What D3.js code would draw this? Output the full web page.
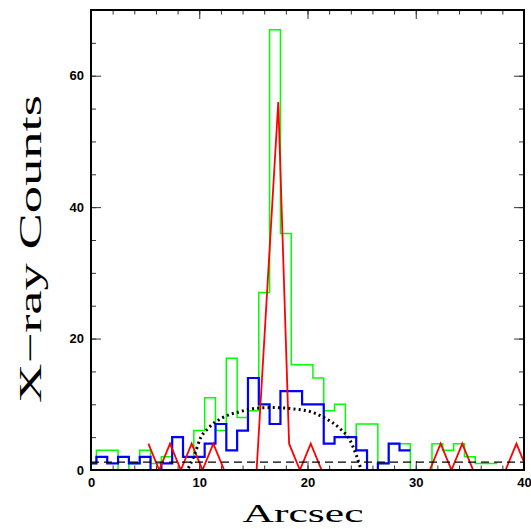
<!DOCTYPE html>
<html>
<head>
<meta charset="utf-8">
<script src="https://cdn.jsdelivr.net/npm/d3@7"></script>
<style>
  body { margin: 0; background: #fff; }
  svg { display: block; }
</style>
</head>
<body>
<div class="holder"></div>
<script>
"use strict";

// green histogram, 1" bins centred on 0..37
const greenCounts = [1, 3, 3, 0, 1, 3, 1, 2, 5, 2, 6, 11, 6, 17, 8, 9, 27, 67, 36, 16,
  16, 14, 9, 10, 5, 7, 7, 1, 4, 4, 0, 0, 4, 3, 4, 2, 1, 1];
// blue histogram, bins centred on 0..29
const blueCounts = [1, 2, 1, 2, 1, 2, 0, 1, 5, 2, 2, 4, 7, 3, 6, 14, 10, 7, 12, 12,
  10, 10, 4, 5, 5, 3, 0, 1, 4, 3];
// red profile
const redX = [5.3, 6.3, 7.3, 8.3, 9.3, 10.3, 11.3, 12.3, 13.3, 14.3, 15.3, 16.3, 17.3, 18.3,
  19.3, 20.3, 21.3, 22.3, 23.3, 24.3, 25.3, 26.3, 27.3, 28.3, 29.3, 30.3, 31.3, 32.3,
  33.3, 34.3, 35.3, 36.3, 37.3, 38.3, 39.3, 40.3];
const redY = [4, 0, 4, 0, 4, 0, 4, 0, 0, 0, 0, 28, 56, 4,
  0, 4, 0, 0, 0, 0, 0, 0, 0, 0, 0, 0, 0, 4,
  0, 4, 0, 0, 0, 0, 4, 0];
// dotted model curve
const modelX = [9.0, 9.6, 10.1, 10.8, 12.2, 13.8, 15.3, 16.8, 18.7, 20.2, 21.5, 23.0, 23.9, 24.5, 24.9];
const modelY = [0.3, 2.5, 4.8, 6.3, 8.0, 8.9, 9.4, 9.5, 9.3, 8.9, 8.0, 6.3, 4.6, 2.3, 0.3];
// dashed background level
const background = 1.2;

const xTicks = [0, 10, 20, 30, 40];
const yTicks = [0, 20, 40, 60];

const w = 531;
const h = 529;
const mLeft = 91, mRight = 524, mTop = 10, mBottom = 470;

const x = d3.scaleLinear().domain([0, 40]).range([mLeft, mRight]);
const y = d3.scaleLinear().domain([0, 70]).range([mBottom, mTop]);

const svg = d3.select(".holder").append("svg").attr("width", w).attr("height", h);

svg.append("defs").append("clipPath").attr("id", "plot")
  .append("rect").attr("x", mLeft).attr("y", mTop)
  .attr("width", mRight - mLeft).attr("height", mBottom - mTop);

const xMinor = d3.range(0, 41, 2);
const yMinor = d3.range(0, 71, 5);

const styleAxis = (g) => {
  g.select(".domain").remove();
  g.selectAll(".tick line").attr("stroke", "#333").attr("stroke-width", 1);
  g.selectAll("text").attr("font-family", "Liberation Sans, Arial, sans-serif")
    .attr("font-size", 13).attr("font-weight", "bold").attr("fill", "#000");
};

// minor ticks on all four sides
svg.append("g").attr("transform", `translate(0,${mBottom})`)
  .call(d3.axisBottom(x).tickValues(xMinor).tickSize(-4.5).tickFormat(""))
  .call(styleAxis);
svg.append("g").attr("transform", `translate(0,${mTop})`)
  .call(d3.axisTop(x).tickValues(xMinor).tickSize(-4.5).tickFormat(""))
  .call(styleAxis);
svg.append("g").attr("transform", `translate(${mLeft},0)`)
  .call(d3.axisLeft(y).tickValues(yMinor).tickSize(-5).tickFormat(""))
  .call(styleAxis);
svg.append("g").attr("transform", `translate(${mRight},0)`)
  .call(d3.axisRight(y).tickValues(yMinor).tickSize(-5).tickFormat(""))
  .call(styleAxis);

// major ticks with labels
svg.append("g").attr("transform", `translate(0,${mBottom})`)
  .call(d3.axisBottom(x).tickValues(xTicks).tickSize(-9).tickPadding(8).tickFormat(d3.format("d")))
  .call(styleAxis);
svg.append("g").attr("transform", `translate(0,${mTop})`)
  .call(d3.axisTop(x).tickValues(xTicks).tickSize(-9).tickFormat(""))
  .call(styleAxis);
svg.append("g").attr("transform", `translate(${mLeft},0)`)
  .call(d3.axisLeft(y).tickValues(yTicks).tickSize(-10).tickPadding(7).tickFormat(d3.format("d")))
  .call(styleAxis);
svg.append("g").attr("transform", `translate(${mRight},0)`)
  .call(d3.axisRight(y).tickValues(yTicks).tickSize(-10).tickFormat(""))
  .call(styleAxis);

const data = svg.append("g").attr("clip-path", "url(#plot)");

const stepPoints = (counts) => {
  const pts = counts.map((v, i) => [i - 0.5, v]);
  pts.push([counts.length - 0.5, counts[counts.length - 1]]);
  return pts;
};
const stepLine = d3.line().x((d) => x(d[0])).y((d) => y(d[1])).curve(d3.curveStepAfter);

data.append("path")
  .attr("d", stepLine(stepPoints(greenCounts)))
  .attr("fill", "none").attr("stroke", "#00ff00").attr("stroke-width", 1.5);

data.append("path")
  .attr("d", stepLine(stepPoints(blueCounts)))
  .attr("fill", "none").attr("stroke", "#0000ff").attr("stroke-width", 2.2);

const plainLine = d3.line().x((d) => x(d[0])).y((d) => y(d[1]));
data.append("path")
  .attr("d", plainLine(redX.map((v, i) => [v, redY[i]])))
  .attr("fill", "none").attr("stroke", "#ff0000").attr("stroke-width", 1.8)
  .attr("stroke-linejoin", "miter");

data.append("path")
  .attr("d", d3.line().x((d) => x(d[0])).y((d) => y(d[1])).curve(d3.curveMonotoneX)(modelX.map((v, i) => [v, modelY[i]])))
  .attr("fill", "none").attr("stroke", "#000").attr("stroke-width", 3)
  .attr("stroke-dasharray", "2,3.2");

data.append("line")
  .attr("x1", x(0)).attr("x2", x(40)).attr("y1", y(background)).attr("y2", y(background))
  .attr("stroke", "#000").attr("stroke-width", 1.1).attr("stroke-dasharray", "8,5");

// frame
svg.append("rect")
  .attr("x", mLeft).attr("y", mTop).attr("width", mRight - mLeft).attr("height", mBottom - mTop)
  .attr("fill", "none").attr("stroke", "#000").attr("stroke-width", 2);

// axis titles
svg.append("text")
  .attr("x", 303).attr("y", 522)
  .attr("text-anchor", "middle")
  .attr("font-family", "Liberation Serif, Times New Roman, serif")
  .attr("font-size", 26)
  .attr("textLength", 121).attr("lengthAdjust", "spacingAndGlyphs")
  .text("Arcsec");

svg.append("text")
  .attr("transform", "translate(41,249) rotate(-90)")
  .attr("text-anchor", "middle")
  .attr("font-family", "Liberation Serif, Times New Roman, serif")
  .attr("font-size", 32)
  .attr("textLength", 308).attr("lengthAdjust", "spacingAndGlyphs")
  .text("X\u2212ray Counts");
</script>
</body>
</html>
